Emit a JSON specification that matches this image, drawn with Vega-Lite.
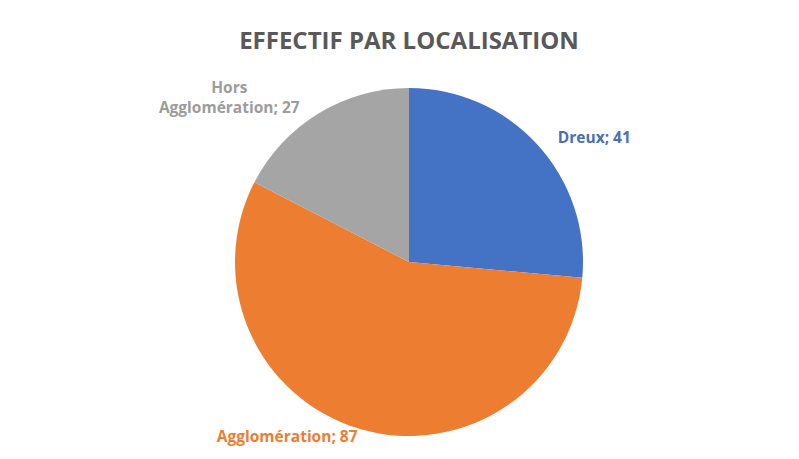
{
  "$schema": "https://vega.github.io/schema/vega-lite/v6.json",
  "autosize": "none",
  "width": 778,
  "height": 352,
  "padding": {"left": 20, "top": 86, "right": 1, "bottom": 21},
  "background": "white",
  "config": {"view": {"stroke": null}},
  "title": {
    "text": "EFFECTIF PAR LOCALISATION",
    "anchor": "middle",
    "offset": -9,
    "font": "Open Sans",
    "fontSize": 24,
    "fontWeight": "bold",
    "color": "#595959"
  },
  "data": {
    "values": [
      {"cat": "Dreux", "value": 41, "order": 1, "label": ["Dreux; 41"]},
      {"cat": "Agglomération", "value": 87, "order": 2, "label": ["Agglomération; 87"]},
      {"cat": "Hors Agglomération", "value": 27, "order": 3, "label": ["Hors", "Agglomération; 27"]}
    ]
  },
  "encoding": {
    "theta": {"field": "value", "type": "quantitative", "stack": true},
    "order": {"field": "order", "type": "quantitative"},
    "color": {
      "field": "cat",
      "type": "nominal",
      "legend": null,
      "scale": {
        "domain": ["Dreux", "Agglomération", "Hors Agglomération"],
        "range": ["#4472C4", "#ED7D31", "#A5A5A5"]
      }
    }
  },
  "layer": [
    {"mark": {"type": "arc", "radius": 174}},
    {
      "mark": {"type": "text", "radius": 223, "thetaOffset": 0.15, "font": "Open Sans", "fontSize": 15.5, "fontWeight": "bold", "align": "center", "baseline": "middle"},
      "encoding": {
        "text": {"field": "label"},
        "color": {"value": "#4A6EB8"},
        "opacity": {"condition": {"test": "datum.cat === 'Dreux'", "value": 1}, "value": 0}
      }
    },
    {
      "mark": {"type": "text", "radius": 213, "thetaOffset": 0.325, "font": "Open Sans", "fontSize": 15.5, "fontWeight": "bold", "align": "center", "baseline": "middle"},
      "encoding": {
        "text": {"field": "label"},
        "opacity": {"condition": {"test": "datum.cat === 'Hors Agglomération' || datum.cat === 'Dreux'", "value": 0}, "value": 1}
      }
    },
    {
      "mark": {"type": "text", "radius": 250, "thetaOffset": -0.255, "font": "Open Sans", "fontSize": 15.5, "fontWeight": "bold", "align": "center", "baseline": "middle", "lineHeight": 20},
      "encoding": {
        "text": {"field": "label"},
        "color": {"value": "#9C9C9C"},
        "opacity": {"condition": {"test": "datum.cat === 'Hors Agglomération'", "value": 1}, "value": 0}
      }
    }
  ]
}
